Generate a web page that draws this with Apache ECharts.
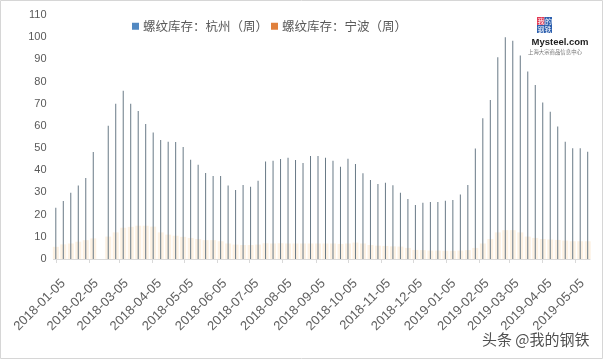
<!DOCTYPE html>
<html><head><meta charset="utf-8">
<script src="https://cdn.jsdelivr.net/npm/echarts@6/dist/echarts.min.js"></script>
<style>html,body{margin:0;padding:0;background:#fff}#c{width:603px;height:359px}</style>
</head><body><div id="c"></div>
<script>
// ---- data ----
const dates = [
 '2018-01-05','2018-01-12','2018-01-19','2018-01-26','2018-02-02','2018-02-09',
 '2018-02-23','2018-03-02','2018-03-09','2018-03-16','2018-03-23','2018-03-30',
 '2018-04-06','2018-04-13','2018-04-20','2018-04-27','2018-05-04','2018-05-11',
 '2018-05-18','2018-05-25','2018-06-01','2018-06-08','2018-06-15','2018-06-22',
 '2018-06-29','2018-07-06','2018-07-13','2018-07-20','2018-07-27','2018-08-03',
 '2018-08-10','2018-08-17','2018-08-24','2018-08-31','2018-09-07','2018-09-14',
 '2018-09-21','2018-09-28','2018-10-05','2018-10-12','2018-10-19','2018-10-26',
 '2018-11-02','2018-11-09','2018-11-16','2018-11-23','2018-11-30','2018-12-07',
 '2018-12-14','2018-12-21','2018-12-28','2019-01-04','2019-01-11','2019-01-18',
 '2019-01-25','2019-02-01','2019-02-08','2019-02-15','2019-02-22','2019-03-01',
 '2019-03-08','2019-03-15','2019-03-22','2019-03-29','2019-04-05','2019-04-12',
 '2019-04-19','2019-04-26','2019-05-03','2019-05-10','2019-05-17'
];
const hangzhou = [
 23.1,26.1,29.9,33.1,36.5,48.2,
 60.1,70.0,75.9,70.0,66.7,60.9,
 57.0,53.7,52.9,52.8,50.5,44.7,
 42.5,38.8,37.4,37.4,33.1,31.1,
 33.4,32.6,35.3,43.9,44.3,45.1,
 45.7,44.6,43.3,46.4,46.4,45.7,
 44.3,41.6,45.2,42.8,38.7,35.6,
 33.8,34.4,33.3,29.9,27.1,24.4,
 25.4,25.7,25.7,26.3,26.6,29.1,
 33.4,49.8,63.4,71.7,90.9,100.0,
 98.4,91.7,84.5,78.4,70.5,66.4,
 59.7,52.9,49.9,49.9,48.4
];
const ningbo = [
 5.5,6.6,7.0,7.8,8.5,9.3,
 10.1,12.0,14.1,14.5,15.0,15.0,
 14.6,12.0,11.0,10.5,10.0,9.5,
 9.0,8.5,8.5,8.0,7.0,6.5,
 6.3,6.3,6.5,7.1,7.0,7.1,
 7.0,7.0,7.0,7.0,7.0,7.0,
 7.0,6.8,7.0,7.4,7.0,6.3,
 6.0,5.9,5.7,5.6,5.0,4.1,
 4.0,3.8,3.8,3.7,3.7,3.8,
 4.0,5.0,7.0,9.0,12.0,13.0,
 13.0,12.0,10.1,9.5,9.0,8.8,
 8.6,8.3,8.0,8.0,8.0
];
const tickLabels = [
 '2018-01-05','2018-02-05','2018-03-05','2018-04-05','2018-05-05','2018-06-05',
 '2018-07-05','2018-08-05','2018-09-05','2018-10-05','2018-11-05','2018-12-05',
 '2019-01-05','2019-02-05','2019-03-05','2019-04-05','2019-05-05'
];
const seriesNames = ['螺纹库存：杭州（周）','螺纹库存：宁波（周）'];
const yMin = 0, yMax = 110, yStep = 10;

// ---- helpers ----
function ts(s){const p=s.split('-');return Date.UTC(+p[0],+p[1]-1,+p[2]);}
const DAY = 864e5;
const xMin = ts(dates[0]) - 2.15*DAY;
const xMax = ts(dates[dates.length-1]) + 2.15*DAY;
const tickTs = tickLabels.map(ts);
const labelOf = {}; tickLabels.forEach((l,i)=>{labelOf[tickTs[i]] = l;});

const txt = '#595959';
const axisCommon = {type:'value', min:xMin, max:xMax, scale:true};
const chart = echarts.init(document.getElementById('c'), null, {renderer:'canvas'});
chart.setOption({
  animation:false,
  backgroundColor:'#ffffff',
  grid:{left:53.5, right:13, top:15, bottom:100},
  legend:{
    left:127, top:15, itemWidth:7, itemHeight:7, itemGap:3, icon:'rect',
    textStyle:{color:txt, fontSize:12.5, fontFamily:'Noto Sans CJK SC', padding:[0,0,0,-1]},
    data:[
      {name:seriesNames[0], itemStyle:{color:'#5289c2'}},
      {name:seriesNames[1], itemStyle:{color:'#e0803c'}}
    ]
  },
  xAxis:[
    Object.assign({}, axisCommon, {
      axisLine:{onZero:false, lineStyle:{color:'#d9d9d9', width:1}},
      axisTick:{show:true, length:4, lineStyle:{color:'#d9d9d9'}, customValues:tickTs},
      axisLabel:{customValues:tickTs, rotate:45, margin:15, color:'#606060', fontSize:13,
        verticalAlign:'top', padding:[4,0,0,0],
        fontFamily:'Liberation Sans', formatter:v=>labelOf[v] || ''},
      splitLine:{show:false}
    }),
    Object.assign({}, axisCommon, {show:false})
  ],
  yAxis:{
    type:'value', min:yMin, max:yMax, interval:yStep,
    axisLine:{show:false}, axisTick:{show:false}, splitLine:{show:false},
    axisLabel:{color:txt, fontSize:11, margin:7, fontFamily:'Liberation Sans'}
  },
  series:[
    {name:seriesNames[0], type:'bar', xAxisIndex:0, barWidth:1, z:3,
      itemStyle:{color:'#687986'},
      data:dates.map((d,i)=>[ts(d), hangzhou[i]])},
    {name:seriesNames[1], type:'bar', xAxisIndex:1, barWidth:6, z:1,
      itemStyle:{color:'#fdf1e2'},
      data:dates.map((d,i)=>[ts(d), ningbo[i]])}
  ],
  graphic:[
    {type:'rect', shape:{x:0.5,y:0.5,width:602,height:358}, style:{fill:'none', stroke:'#d6d6d6', lineWidth:1}, silent:true},
    {type:'rect', shape:{x:537,y:17,width:7.5,height:8}, style:{fill:'#e23a55'}},
    {type:'rect', shape:{x:544.5,y:17,width:7.5,height:8}, style:{fill:'#2c5fae'}},
    {type:'rect', shape:{x:537,y:25,width:15,height:8}, style:{fill:'#2c5fae'}},
    {type:'text', x:537.5, y:17.5, style:{text:'我', fill:'#fff', fontSize:7, fontFamily:'Noto Sans CJK SC'}},
    {type:'text', x:545, y:17.5, style:{text:'的', fill:'#fff', fontSize:7, fontFamily:'Noto Sans CJK SC'}},
    {type:'text', x:537.5, y:25.5, style:{text:'钢铁', fill:'#fff', fontSize:7, fontFamily:'Noto Sans CJK SC'}},
    {type:'text', x:531.5, y:37, style:{text:'Mysteel.com', fill:'#1e1e1e', fontSize:9.5, fontWeight:'bold', fontFamily:'Liberation Sans'}},
    {type:'text', x:528, y:49, style:{text:'上海大宗商品信息中心', fill:'#777', fontSize:5.4, fontFamily:'Noto Sans CJK SC'}},
    {type:'text', x:482, y:332, style:{text:'头条 @我的钢铁', fill:'#505050', fontSize:15, fontFamily:'Noto Sans CJK SC'}}
  ]
});
</script></body></html>
